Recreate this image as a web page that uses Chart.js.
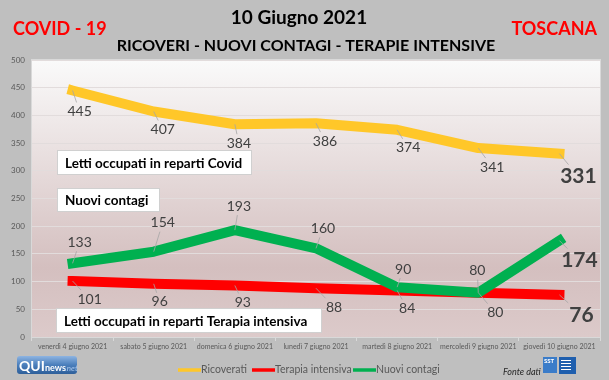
<!DOCTYPE html>
<html>
<head>
<meta charset="utf-8">
<script src="https://cdn.jsdelivr.net/npm/chart.js@4.4.1/dist/chart.umd.min.js"></script>
<style>
  html,body{margin:0;padding:0;background:#bfbfbf;}
  canvas{display:block;}
</style>
</head>
<body>
<canvas id="c" width="609" height="380"></canvas>
<script>
// ---- DATA ----
const categories = ['venerdì 4 giugno 2021', 'sabato 5 giugno 2021', 'domenica 6 giugno 2021', 'lunedì 7 giugno 2021', 'martedì 8 giugno 2021', 'mercoledì 9 giugno 2021', 'giovedì 10 giugno 2021'];
const ricoverati = [445, 407, 384, 386, 374, 341, 331];
const terapiaIntensiva = [101, 96, 93, 88, 84, 80, 76];
const nuoviContagi = [133, 154, 193, 160, 90, 80, 174];
const seriesNames = ['Ricoverati', 'Terapia intensiva', 'Nuovi contagi'];
const yMin = 0, yMax = 500, yStep = 50;

// ---- label placement (styling, pixel offsets from each point) ----
const offRicoverati = [[7,21],[9,18],[4,19],[9,18],[11,18],[14,19],[19,23]];
const offTerapia = [[17,18],[6,18],[8,17],[18,19],[10,18],[17,20],[22,20]];
const offContagi = [[7,-21],[9,-29],[4,-24],[7,-20],[6,-18],[-1,-22],[20,20]];

const FONT = 'Lato, "Open Sans", sans-serif';

const bgPlugin = {
  id: 'bg',
  beforeDraw(chart) {
    const {ctx, chartArea: a} = chart;
    ctx.save();
    ctx.fillStyle = '#bfbfbf';
    ctx.fillRect(0, 0, chart.width, chart.height);
    const g = ctx.createLinearGradient(0, a.top, 0, a.bottom);
    g.addColorStop(0, '#fafafa');
    g.addColorStop(0.75, '#d4bfbf');
    g.addColorStop(1, '#dccaca');
    ctx.fillStyle = g;
    ctx.fillRect(a.left, a.top, a.right - a.left, a.bottom - a.top);
    ctx.strokeStyle = '#d9d9d9';
    ctx.lineWidth = 1;
    ctx.strokeRect(a.left - 0.5, a.top - 0.5, a.right - a.left + 1, a.bottom - a.top + 1);
    ctx.restore();
  }
};

const labelPlugin = {
  id: 'labels',
  afterDatasetsDraw(chart) {
    const ctx = chart.ctx;
    ctx.save();
    chart.data.datasets.forEach((ds, di) => {
      const meta = chart.getDatasetMeta(di);
      meta.data.forEach((pt, i) => {
        const last = i === meta.data.length - 1;
        const [dx, dy] = ds.labelOffsets[i];
        const lx = pt.x + dx, ly = pt.y + dy;
        ctx.font = (last ? 'bold 21px ' : '14px ') + FONT;
        const txt = String(ds.data[i]);
        const w = ctx.measureText(txt).width;
        const hw = w / 2 + 2, hh = (last ? 12 : 9);
        const vx = lx - pt.x, vy = ly - pt.y;
        let t = 1;
        if (Math.abs(vx) > 0.01) t = Math.min(t, Math.abs(hw / vx));
        if (Math.abs(vy) > 0.01) t = Math.min(t, Math.abs(hh / vy));
        const ex = lx - vx * t, ey = ly - vy * t;
        ctx.strokeStyle = '#a6a6a6';
        ctx.lineWidth = 0.8;
        ctx.beginPath();
        ctx.moveTo(pt.x, pt.y);
        ctx.lineTo(ex, ey);
        ctx.stroke();
        ctx.fillStyle = '#404040';
        ctx.textAlign = 'center';
        ctx.textBaseline = 'middle';
        ctx.fillText(txt, lx, ly);
      });
    });
    ctx.restore();
  }
};

function box(ctx, x1, y1, x2, y2, text, tx) {
  ctx.fillStyle = '#ffffff';
  ctx.fillRect(x1, y1, x2 - x1, y2 - y1);
  ctx.strokeStyle = '#d0d0d0';
  ctx.lineWidth = 1;
  ctx.strokeRect(x1 + 0.5, y1 + 0.5, x2 - x1 - 1, y2 - y1 - 1);
  ctx.fillStyle = '#000000';
  ctx.font = 'bold 13.5px ' + FONT;
  ctx.textAlign = 'left';
  ctx.textBaseline = 'middle';
  ctx.fillText(text, tx, (y1 + y2) / 2 + 1);
}

const decoPlugin = {
  id: 'deco',
  afterDraw(chart) {
    const ctx = chart.ctx;
    ctx.save();
    ctx.textBaseline = 'middle';
    ctx.textAlign = 'center';
    ctx.fillStyle = '#000000';
    ctx.font = 'bold 19px ' + FONT;
    ctx.fillText('10 Giugno 2021', 299, 18);
    ctx.font = 'bold 16px ' + FONT;
    ctx.fillText('RICOVERI - NUOVI CONTAGI - TERAPIE INTENSIVE', 306, 46);
    ctx.fillStyle = '#ff0000';
    ctx.font = 'bold 18px ' + FONT;
    ctx.textAlign = 'left';
    ctx.fillText('COVID - 19', 13, 29);
    ctx.textAlign = 'right';
    ctx.fillText('TOSCANA', 597, 29);

    box(ctx, 57, 150, 252, 175, 'Letti occupati in reparti Covid', 65);
    box(ctx, 57, 188, 160, 212, 'Nuovi contagi', 65);
    box(ctx, 56, 308, 322, 333, 'Letti occupati in reparti Terapia intensiva', 64);

    const legX = [178, 252, 353];
    ctx.font = '10.5px ' + FONT;
    ctx.textAlign = 'left';
    chart.data.datasets.forEach((ds, i) => {
      ctx.strokeStyle = ds.borderColor;
      ctx.lineWidth = 3.5;
      ctx.beginPath();
      ctx.moveTo(legX[i], 370);
      ctx.lineTo(legX[i] + 23, 370);
      ctx.stroke();
      ctx.fillStyle = '#595959';
      ctx.fillText(ds.label, legX[i] + 23, 370);
    });

    const lg = ctx.createLinearGradient(0, 356, 0, 374);
    lg.addColorStop(0, '#8db4e2');
    lg.addColorStop(0.5, '#4a7ebb');
    lg.addColorStop(1, '#2e5f9a');
    ctx.fillStyle = lg;
    ctx.beginPath();
    ctx.roundRect(17, 356, 60, 18, 3);
    ctx.fill();
    ctx.fillStyle = '#ffffff';
    ctx.font = 'bold 14px ' + FONT;
    ctx.fillText('QUI', 19, 366);
    ctx.font = 'bold 9px ' + FONT;
    ctx.fillText('news', 45, 368);
    ctx.fillStyle = '#a9c8ee';
    ctx.font = 'italic 8px ' + FONT;
    ctx.fillText('.net', 65, 368);

    ctx.fillStyle = '#262626';
    ctx.font = 'italic 9px ' + FONT;
    ctx.fillText('Fonte dati', 503, 372);
    ctx.fillStyle = '#3a7cc9';
    ctx.fillRect(543, 357, 14, 16);
    ctx.fillStyle = '#1f5fae';
    ctx.fillRect(559, 357, 17, 17);
    ctx.fillStyle = '#ffffff';
    ctx.font = 'bold 6px ' + FONT;
    ctx.fillText('SST', 544, 361);
    ctx.fillRect(561, 360, 10, 1);
    ctx.fillRect(561, 363, 10, 1);
    ctx.fillRect(561, 366, 10, 1);
    ctx.fillRect(561, 369, 10, 1);
    ctx.restore();
  }
};

new Chart(document.getElementById('c'), {
  type: 'line',
  data: {
    labels: categories,
    datasets: [
      { label: seriesNames[0], data: ricoverati, borderColor: '#ffc729', backgroundColor: '#ffc729', labelOffsets: offRicoverati, order: 3 },
      { label: seriesNames[1], data: terapiaIntensiva, borderColor: '#ff0000', backgroundColor: '#ff0000', labelOffsets: offTerapia, order: 2 },
      { label: seriesNames[2], data: nuoviContagi, borderColor: '#00b050', backgroundColor: '#00b050', labelOffsets: offContagi, order: 1 }
    ].map(d => Object.assign(d, { borderWidth: 10, pointRadius: 0, tension: 0, borderCapStyle: 'square', borderJoinStyle: 'round', clip: 8 }))
  },
  options: {
    responsive: false,
    animation: false,
    events: [],
    layout: { padding: { left: 0, right: 9, top: 60, bottom: 0 } },
    plugins: { legend: { display: false }, tooltip: { enabled: false }, title: { display: false } },
    scales: {
      x: {
        offset: true,
        grid: { display: true, drawOnChartArea: false, offset: true, tickLength: 4, color: '#d9d9d9' },
        border: { color: '#d9d9d9' },
        ticks: { font: { family: FONT, size: 7 }, color: '#595959', maxRotation: 0, autoSkip: false, padding: 2 },
        afterFit: (s) => { s.height = 43; }
      },
      y: {
        min: yMin, max: yMax,
        ticks: { stepSize: yStep, font: { family: FONT, size: 8 }, color: '#595959', padding: 7 },
        grid: { color: '#e2dcdc', drawTicks: false },
        border: { display: false },
        afterFit: (s) => { s.width = 32; }
      }
    }
  },
  plugins: [bgPlugin, labelPlugin, decoPlugin]
});
</script>
</body>
</html>
